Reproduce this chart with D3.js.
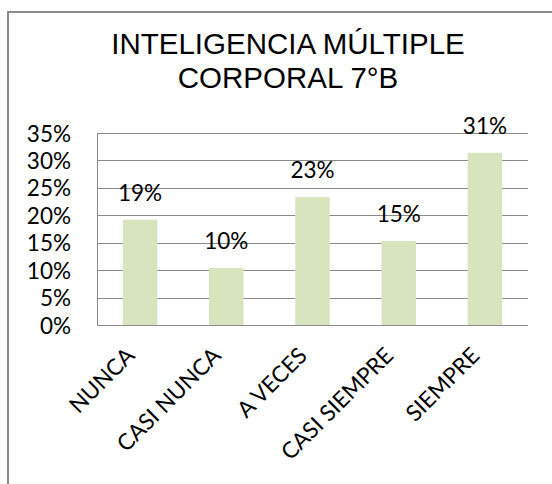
<!DOCTYPE html>
<html>
<head>
<meta charset="utf-8">
<script src="https://cdn.jsdelivr.net/npm/d3@7"></script>
<style>
  body { margin: 0; background: #fff; }
  svg { display: block; }
</style>
</head>
<body>
<script>
  var w = 552, h = 484;

  // data
  var categories = ["NUNCA", "CASI NUNCA", "A VECES", "CASI SIEMPRE", "SIEMPRE"];
  var values = [0.192, 0.104, 0.233, 0.153, 0.314];
  var yTicks = [0, 0.05, 0.10, 0.15, 0.20, 0.25, 0.30, 0.35];
  var titleLines = ["INTELIGENCIA MÚLTIPLE", "CORPORAL 7°B"];

  var plot = { left: 97, right: 528, top: 133, bottom: 325 };
  var labelFont = "Lato, 'Open Sans', sans-serif";
  var labelSize = 22.5;

  var svg = d3.select("body").append("svg")
    .attr("width", w)
    .attr("height", h);

  // chart frame (runs off the right and bottom edges)
  svg.append("rect")
    .attr("x", 8).attr("y", 12)
    .attr("width", 566).attr("height", 490)
    .attr("fill", "#fff")
    .attr("stroke", "#8c8c8c")
    .attr("stroke-width", 2);

  // title
  svg.append("text")
    .attr("font-family", "'Liberation Sans', Arial, sans-serif")
    .attr("font-size", 29.5)
    .attr("text-anchor", "middle")
    .attr("fill", "#000")
    .selectAll("tspan")
    .data(titleLines)
    .enter().append("tspan")
    .attr("x", 288)
    .attr("y", function (d, i) { return 54 + i * 34; })
    .text(function (d) { return d; });

  var x = d3.scaleBand()
    .domain(categories)
    .range([plot.left, plot.right])
    .paddingInner(0.6)
    .paddingOuter(0.3);

  var y = d3.scaleLinear()
    .domain([0, 0.35])
    .range([plot.bottom, plot.top]);

  // gridlines
  svg.append("g")
    .selectAll("line")
    .data(yTicks)
    .enter().append("line")
    .attr("x1", plot.left).attr("x2", plot.right)
    .attr("y1", function (d) { return Math.round(y(d)) + 0.5; })
    .attr("y2", function (d) { return Math.round(y(d)) + 0.5; })
    .attr("stroke", "#8a8a8a")
    .attr("stroke-width", 1);

  // left axis line
  svg.append("line")
    .attr("x1", plot.left + 0.5).attr("x2", plot.left + 0.5)
    .attr("y1", plot.top).attr("y2", plot.bottom + 1)
    .attr("stroke", "#8a8a8a");

  // y axis labels
  var yAxis = d3.axisLeft(y)
    .tickValues(yTicks)
    .tickFormat(d3.format(".0%"))
    .tickSize(0)
    .tickPadding(0);

  svg.append("g")
    .attr("transform", "translate(71,0)")
    .call(yAxis)
    .call(function (g) {
      g.select(".domain").remove();
      g.selectAll("text")
        .attr("font-family", labelFont)
        .attr("font-size", labelSize)
        .attr("fill", "#000")
        .attr("dy", "0.36em");
    });

  // bars
  svg.append("g")
    .selectAll("rect")
    .data(values)
    .enter().append("rect")
    .attr("x", function (d, i) { return x(categories[i]); })
    .attr("y", function (d) { return y(d); })
    .attr("width", x.bandwidth())
    .attr("height", function (d) { return plot.bottom - y(d); })
    .attr("fill", "#d7e4bd");

  // data labels
  svg.append("g")
    .selectAll("text")
    .data(values)
    .enter().append("text")
    .attr("x", function (d, i) { return x(categories[i]) + x.bandwidth() / 2; })
    .attr("y", function (d) { return y(d) - 19; })
    .attr("text-anchor", "middle")
    .attr("font-family", labelFont)
    .attr("font-size", labelSize)
    .attr("fill", "#000")
    .text(function (d) { return d3.format(".0%")(d); });

  // x axis labels, rotated
  var xAxis = d3.axisBottom(x).tickSize(0).tickPadding(0);

  svg.append("g")
    .attr("transform", "translate(0," + plot.bottom + ")")
    .call(xAxis)
    .call(function (g) {
      g.select(".domain").remove();
      g.selectAll("text")
        .attr("font-family", labelFont)
        .attr("font-size", labelSize)
        .attr("fill", "#000")
        .attr("text-anchor", "end")
        .attr("dy", 0)
        .attr("y", 0)
        .attr("transform", "translate(-4,32) rotate(-45)");
    });
</script>
</body>
</html>
